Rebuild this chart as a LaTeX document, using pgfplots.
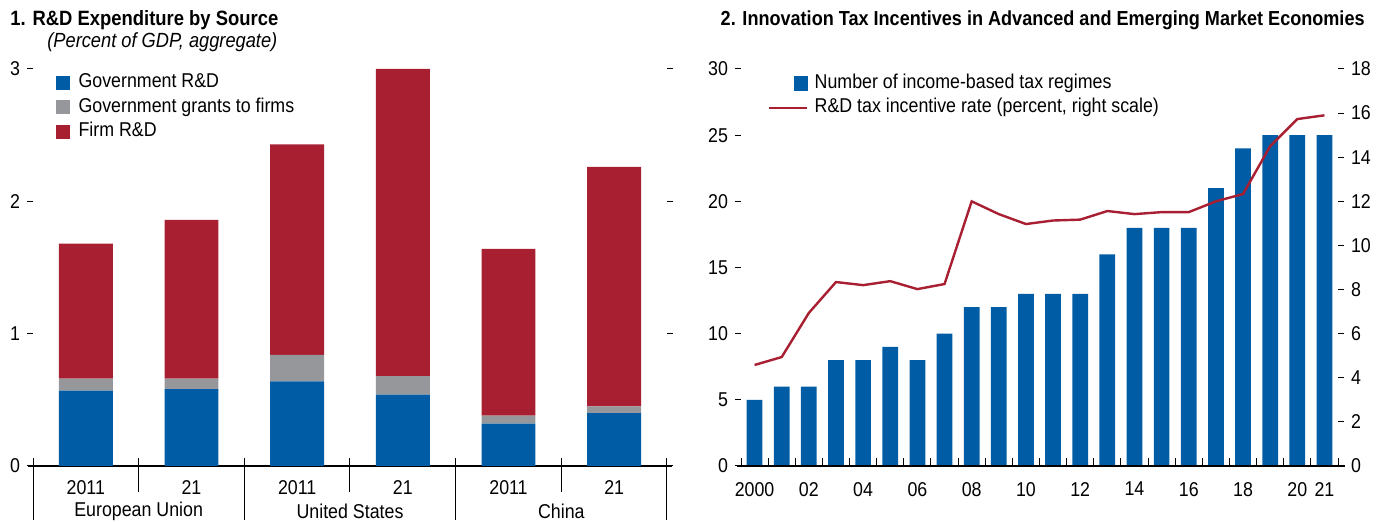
\documentclass[border=0pt]{standalone}
\usepackage{fontspec}
\setmainfont{Liberation Sans}[FakeStretch=0.89]
\usepackage{pgfplots}
\pgfplotsset{compat=1.18}
\definecolor{imfblue}{HTML}{005DA5}
\definecolor{imfred}{HTML}{A81F32}
\definecolor{imfgray}{HTML}{96979A}

\begin{document}
\begin{tikzpicture}[font=\fontsize{10}{12}\selectfont]
\useasboundingbox (0,0) rectangle (692.5pt,261pt);

% ---- titles
\node[anchor=base west, inner sep=0pt, font=\bfseries\fontsize{10.35}{12}\selectfont] at (5pt,248pt) {1. R\&D Expenditure by Source};
\node[anchor=base west, inner sep=0pt, font=\itshape\fontsize{10.25}{12}\selectfont] at (23.5pt,237pt) {(Percent of GDP, aggregate)};
\node[anchor=base east, inner sep=0pt, font=\bfseries\fontsize{10.15}{12}\selectfont] at (682.5pt,248pt) {2. Innovation Tax Incentives in Advanced and Emerging Market Economies};

% ---- panel 1
\begin{axis}[
    at={(16.5pt,28pt)}, anchor=south west,
    scale only axis, width=317pt, height=198.5pt,
    ybar stacked, bar width=0.51,
    xmin=-0.5, xmax=5.5, ymin=0, ymax=3,
    xtick={0,...,5}, xticklabels={2011,21,2011,21,2011,21},
    xtick pos=bottom,
    every major x tick/.append style={draw=none},
    ytick={0,1,2,3},
    ytick pos=both, tick align=outside, major tick length=3pt,
    axis line style={draw=none},
    tick style={black, line width=0.5pt},
    /pgf/number format/assume math mode=true,
    xticklabel style={yshift=-0.5pt},
    clip=false,
    legend style={at={(0.035,0.997)}, anchor=north west, draw=none, fill=none,
        inner sep=0pt, row sep=0.25pt,
        nodes={text height=7.5pt, text depth=2.5pt, inner sep=1pt}},
    legend cell align=left,
    legend image code/.code={\fill[#1] (0pt,-3.5pt) rectangle (7pt,3.5pt); \path (10.5pt,0pt);},
]
\addplot[fill=imfblue, draw=none] coordinates {(0,0.57) (1,0.58) (2,0.64) (3,0.54) (4,0.32) (5,0.40)};
\addlegendentry{Government R\&D}
\addplot[fill=imfgray, draw=none] coordinates {(0,0.09) (1,0.08) (2,0.20) (3,0.14) (4,0.06) (5,0.05)};
\addlegendentry{Government grants to firms}
\addplot[fill=imfred, draw=none] coordinates {(0,1.02) (1,1.20) (2,1.59) (3,2.32) (4,1.26) (5,1.81)};
\addlegendentry{Firm R\&D}

\draw[black, line width=0.8pt] ([xshift=-2.5pt]axis cs:-0.5,0) -- ([xshift=2.5pt]axis cs:5.5,0);
\pgfplotsinvokeforeach{-0.5,1.5,3.5,5.5}{
  \draw[black, line width=0.5pt] ([yshift=4pt]axis cs:#1,0) -- ([yshift=-27pt]axis cs:#1,0);
}
\pgfplotsinvokeforeach{0.5,2.5,4.5}{
  \draw[black, line width=0.5pt] ([yshift=4pt]axis cs:#1,0) -- ([yshift=-13pt]axis cs:#1,0);
}
\node at ([yshift=-22.5pt]axis cs:0.5,0) {European Union};
\node at ([yshift=-22.5pt]axis cs:2.5,0) {United States};
\node at ([yshift=-22.5pt]axis cs:4.5,0) {China};
\end{axis}

% ---- panel 2, bars (left scale)
\begin{axis}[
    at={(370.5pt,28pt)}, anchor=south west,
    scale only axis, width=298.5pt, height=198.5pt,
    ybar, bar width=0.58,
    xmin=1999.5, xmax=2021.5, ymin=0, ymax=30,
    xtick={2000,2002,2004,2006,2008,2010,2012,2014,2016,2018,2020,2021},
    xticklabels={2000,02,04,06,08,10,12,14,16,18,20,21},
    xtick pos=bottom,
    every major x tick/.append style={draw=none},
    minor xtick={1999.5,2000.5,...,2021.5},
    xtick align=inside, minor tick length=4pt,
    ytick={0,5,...,30}, ytick pos=left, ytick align=outside, major tick length=3pt,
    axis line style={draw=none},
    tick style={black, line width=0.5pt},
    /pgf/number format/assume math mode=true,
    xticklabel style={yshift=-4.5pt},
    clip=false,
]
\addplot[fill=imfblue, draw=none] coordinates {
(2000,5) (2001,6) (2002,6) (2003,8) (2004,8) (2005,9) (2006,8) (2007,10)
(2008,12) (2009,12) (2010,13) (2011,13) (2012,13) (2013,16) (2014,18) (2015,18)
(2016,18) (2017,21) (2018,24) (2019,25) (2020,25) (2021,25)};
\draw[black, line width=0.8pt] ([xshift=-2pt]axis cs:1999.5,0) -- ([xshift=3.5pt]axis cs:2021.5,0);
\end{axis}

% ---- panel 2, line (right scale)
\begin{axis}[
    at={(370.5pt,28pt)}, anchor=south west,
    scale only axis, width=298.5pt, height=198.5pt,
    xmin=1999.5, xmax=2021.5, ymin=0, ymax=18,
    hide x axis,
    ytick={0,2,...,18}, ytick pos=right, yticklabel pos=right,
    tick align=outside, major tick length=3pt,
    axis line style={draw=none},
    tick style={black, line width=0.5pt},
    /pgf/number format/assume math mode=true,
    legend style={at={(0.045,0.995)}, anchor=north west, draw=none, fill=none,
        inner sep=0pt, row sep=0.25pt,
        nodes={text height=7.5pt, text depth=2.5pt, inner sep=1pt}},
    legend cell align=left,
]
\addlegendimage{legend image code/.code={\fill[imfblue] (12.5pt,-3.5pt) rectangle (19pt,3.5pt); \path (21pt,0pt);}}
\addlegendentry{Number of income-based tax regimes}
\addplot[imfred, line width=1.2pt, mark=none,
    legend image code/.code={\draw[imfred, line width=1.2pt] (0pt,0pt) -- (19pt,0pt); \path (21pt,0pt);}] coordinates {
(2000,4.58) (2001,4.94) (2002,6.94) (2003,8.34) (2004,8.20) (2005,8.38) (2006,8.02) (2007,8.25)
(2008,12.0) (2009,11.42) (2010,10.97) (2011,11.13) (2012,11.17) (2013,11.56) (2014,11.42) (2015,11.51)
(2016,11.51) (2017,12.0) (2018,12.33) (2019,14.5) (2020,15.73) (2021,15.9)};
\addlegendentry{R\&D tax incentive rate (percent, right scale)}
\end{axis}
\end{tikzpicture}
\end{document}
